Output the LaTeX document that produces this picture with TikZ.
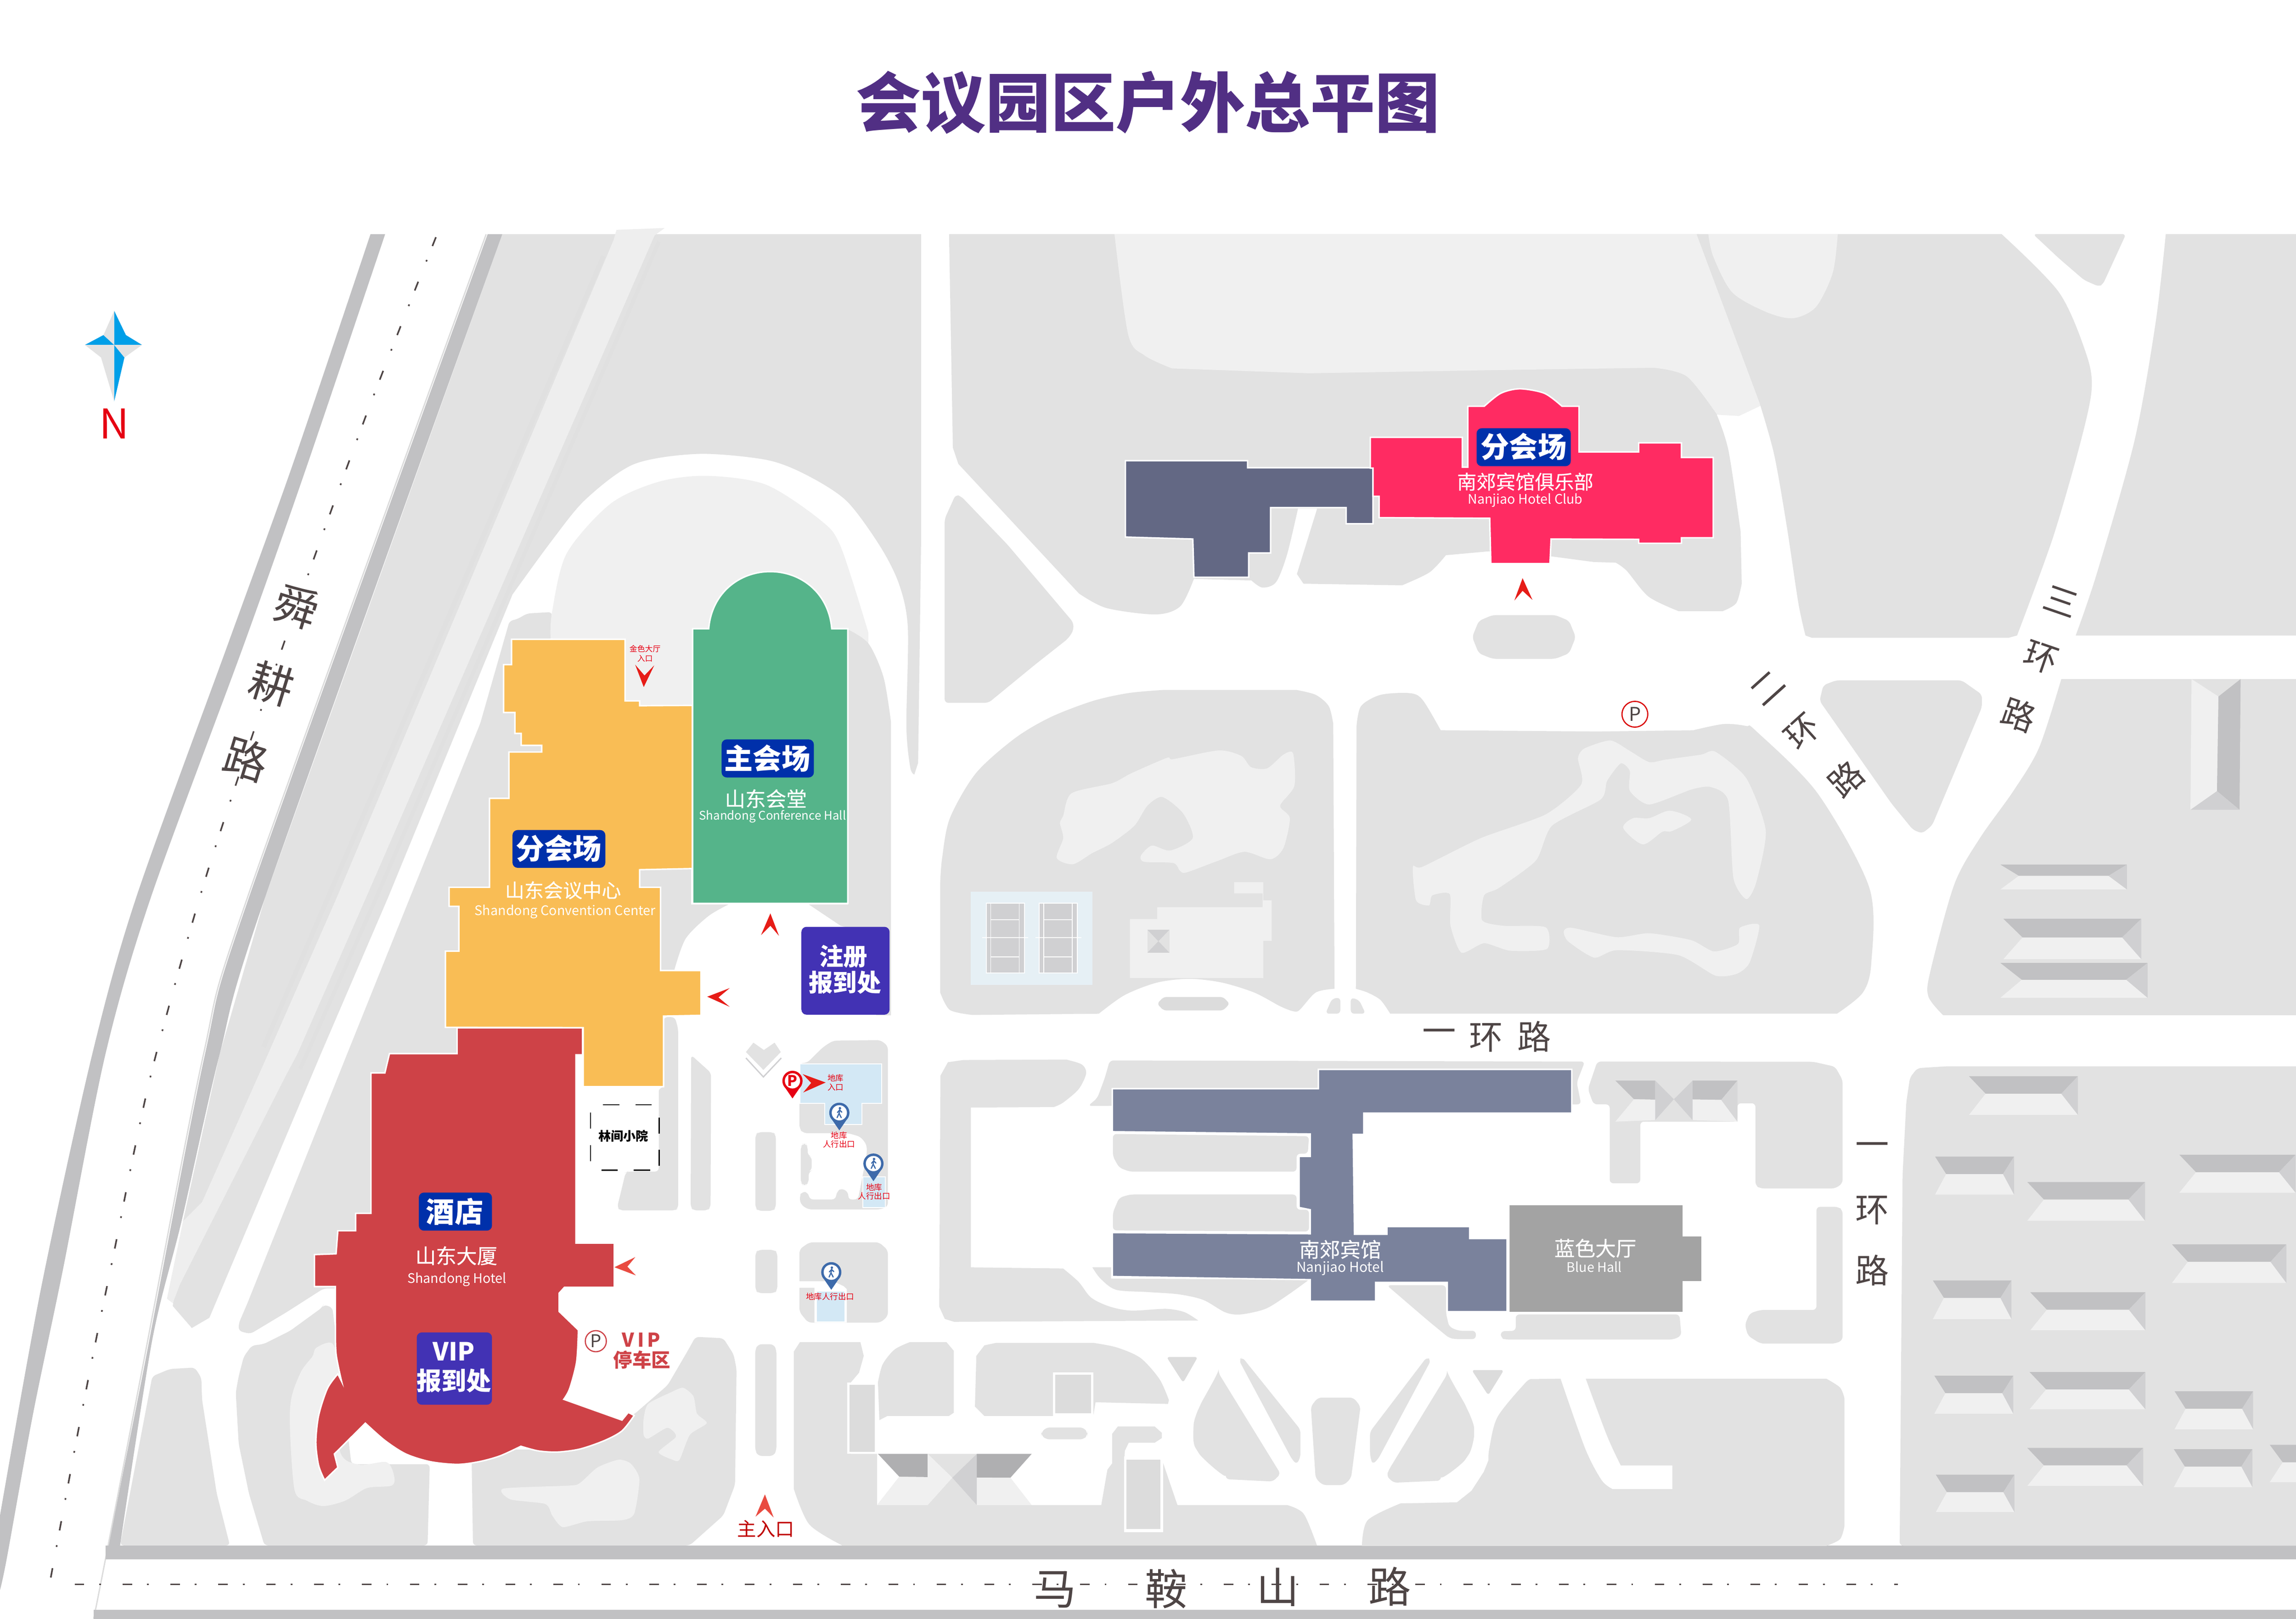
\documentclass[tikz,border=0pt]{standalone}
\usepackage{fontspec}
\setmainfont{Noto Sans CJK SC}
\newfontfamily\medf[FakeBold=0.35]{Noto Sans CJK SC}
\newcommand\tfs[1]{\fontsize{#1}{#1}\selectfont}
\definecolor{blk}{HTML}{E2E2E2}
\definecolor{lite}{HTML}{F0F0F0}
\definecolor{strip}{HTML}{C1C1C3}
\definecolor{inbox}{HTML}{DCDCDC}
\definecolor{roofm}{HTML}{D0D0D2}
\definecolor{roofd}{HTML}{AFAFB1}
\definecolor{roadtxt}{HTML}{4E4545}
\definecolor{tagblue}{HTML}{0030AA}
\definecolor{tagpurple}{HTML}{4232B4}
\definecolor{redtxt}{HTML}{E60012}
\definecolor{arrowred}{HTML}{E61C17}
\definecolor{arrowsoft}{HTML}{E94B41}
\definecolor{hotelred}{HTML}{CE4247}
\definecolor{yellowb}{HTML}{F9BD55}
\definecolor{greenb}{HTML}{55B48A}
\definecolor{pinkb}{HTML}{FF2B62}
\definecolor{slateb}{HTML}{636884}
\definecolor{greyblue}{HTML}{7A829C}
\definecolor{bluehall}{HTML}{A3A3A3}
\definecolor{skyb}{HTML}{D3E8F5}
\definecolor{pinblue}{HTML}{3D6AAA}
\definecolor{compass}{HTML}{009FE8}
\definecolor{titlec}{HTML}{512F84}
\definecolor{courtbg}{HTML}{E6F0F5}
\tikzset{
 z1/.style={shift={(0,133.33)},x=.3333pt,y=-.3061pt},
 z2/.style={shift={(266.67,373.33)},x=.2551pt,y=-.2551pt},
 z3/.style={shift={(373.33,693.33)},x=.1701pt,y=-.1361pt},
 z4/.style={shift={(186.67,693.33)},x=.2381pt,y=-.2629pt},
 z5/.style={shift={(533.33,880)},x=.3231pt,y=-.1439pt},
 z6/.style={shift={(613.33,133.33)},x=.3741pt,y=-.2211pt},
 z7/.style={shift={(613.33,453.33)},x=.4422pt,y=-.1701pt},
 z8/.style={shift={(613.33,693.33)},x=.4252pt,y=-.1531pt},
 z9/.style={shift={(1173.33,400)},x=.2520pt,y=-.4252pt},
 z10/.style={shift={(0,720)},x=.1871pt,y=-.2459pt},
 z11/.style={shift={(1120,133.33)},x=.2861pt,y=-.2211pt},
 z12/.style={shift={(1013.33,880)},x=.1871pt,y=-.1439pt},
 block/.style={fill=blk,rounded corners=2.5pt},
 sharpblock/.style={fill=blk},
 road/.style={text=roadtxt,inner sep=0pt},
 tag/.style={fill=tagblue,rounded corners=3.5pt},
 purplebox/.style={fill=tagpurple,rounded corners=3.5pt},
 whitelab/.style={text=white,inner sep=0pt},
 redlab/.style={text=redtxt,inner sep=0pt},
 build/.style={draw=white,line width=1pt,line join=miter},
 navred/.style={fill=arrowred},
 navsoft/.style={fill=arrowsoft},
 ddash/.style={draw=black,line width=.75pt},
 centerline/.style={draw=roadtxt,line width=1.1pt,dash pattern=on 6.5pt off 10.2pt on 1.2pt off 14.8pt},
}
% roof: x1 y1 x2 y2 dx dy, in the coordinates of the current scope
\newcommand\roofbox[6]{%
 \fill[lite] (#1+#5,#2+#6)--(#3-#5,#2+#6)--(#3,#4)--(#1,#4)--cycle;
 \fill[strip] (#1,#2)--(#3,#2)--(#3-#5,#2+#6)--(#1+#5,#2+#6)--cycle;
 \fill[roofm] (#3,#2)--(#3,#4)--(#3-#5,#2+#6)--cycle;}
\newcommand\pinmark[3]{%
 \begin{scope}[shift={(#1,#2)}]
 \fill[#3] (0,0) circle (6.9);
 \fill[#3] (-6.3,2.8)--(0,12)--(6.3,2.8)--cycle;
 \fill[white] (0,0) circle (5.2);
 \end{scope}}
\newcommand\walker[2]{%
 \begin{scope}[shift={(#1,#2)},pinblue,line width=.8pt,line cap=round]
 \fill (.4,-3.1) circle (.85);
 \draw (.3,-2)--(-.2,.4)--(-1.5,3.3);
 \draw (-.2,.4)--(1.3,3.3);
 \draw (-1.3,-.2)--(.2,-1.9)--(1.7,-.4);
 \end{scope}}
\begin{document}
\begin{tikzpicture}[x=1pt,y=-1pt]
\useasboundingbox (0,0) rectangle (1568,1105.6);
\fill[white] (0,0) rectangle (1568,1105.6);
\clip (0,0) rectangle (1568,1105.6);

% ---- west gray areas
\fill[blk] (343,160)--(629,160)--(629,373)--(627,521)--(624.4,529)-- plot[smooth] coordinates {(624.4,529) (621.6,524) (619,496) (620,429) (614,399) (601,373) (578,342) (550,324) (523,314) (477,310) (433,317) (400,341) (377,369) (350,406)} --(265,613)--(219,720)--(143,900)--(131,907)--(118,892)--(125,834)--(150,720)--(181,613)--cycle;
\fill[block] (237,720)--(280,613)--(328,494)--(348,424)--(353,423)--(360,419)--(377,418)--(376,436)--(376,700)--(230,880)--(221,880)--(196,896)--(171,911)--(163,909)--(163,904)--(169,890)--cycle;
\fill[block] (104,940)--(116,935)--(133,934)--(137.5,941)--(138,956)--(148,1020)--(157,1055.5)--(82,1055.5)--cycle;
\fill[block] (163,940)--(166.5,926.5)--(172,919)--(180,918)--(198,909)--(220,893)--(221,891)--(227,893)--(240,1000)--(293.5,1000)--(292,1055.5)--(180.6,1055.5)--(170,1020)--(163,986)--(161,951)--cycle;
\fill[block] (322,990)--(323,1055.5)--(471,1055.5)--(494,1035)--(502,1014)--(503,935)--(501,925)--(494,914)--(475,913)--(470,922)--(456,946)--(433,966)--(380,990)--cycle;
% light strip along the west
\fill[lite!85!blk] (421,157)--(454,155.7)--(447,160.8)--(250,613)--(203,720)--(195,735)--(123,877)--(118,890)--(114,887)--(125,834)--(138,821)--(183,720)--(230,613)--(419,164)--cycle;
\draw[blk!70!inbox,line width=3pt] (412,175)--(224,613)--(180,715);
\draw[blk!70!inbox,line width=2.5pt] (450,165)--(257,613)--(205,730);
% road strips
\fill[strip] plot[smooth] coordinates {(253,160) (200,317) (156,439) (93,613) (63,720) (28,880) (0,1035)} -- (0,1086) -- plot[smooth] coordinates {(0,1086) (4.7,1064) (22.5,966) (43,867) (72,720) (103,613) (167,439) (210,317) (263,160)} -- cycle;
\fill[strip] plot[smooth] coordinates {(333,160) (170,613) (140,720) (97,941) (72,1065)} -- (82,1055.5) -- plot[smooth] coordinates {(82,1055.5) (104,915) (124,834) (150,720) (181,613) (343,160)} -- cycle;
\draw[inbox,line width=.9pt] plot[smooth] coordinates {(332,160) (169,613) (139,720) (96,941) (72,1065) (64,1105.6)};
\fill[strip] (72,1055.5) rectangle (1568,1065);
\fill[strip] (64,1099.5) rectangle (1568,1105.6);
\draw[centerline] (51,1082)--(1296,1082);
\draw[centerline] plot[smooth] coordinates {(297.7,162) (249,286.4) (193.3,441) (141.7,595.5) (106.6,720) (91.7,786) (78.6,851.6) (65.5,915.5) (53,979.5) (34.2,1080)};

% lawn round the hall
\fill[lite] plot[smooth] coordinates {(376,436) (377,418) (387,378) (417,344) (450,329) (483,325) (523,331) (560,355) (574,373) (593,432)} -- (593,440)--(579,430)--(579,500)--(420,500)--(420,440)--cycle;
% gray beside hall, west of plaza
\begin{scope}[z2]
\fill[blk] plot[smooth] coordinates {(1225,222) (1280,260) (1320,350) (1340,470)} --(1340,1255)--(1300,1255)--(1300,1040)--(1205,1015)--(1120,958)--(1225,958)--cycle;
\fill[sharpblock] (667,865)--(805,862)--(805,958)--(905,958)-- plot[smooth] coordinates {(905,958) (850,990) (790,1050) (760,1133)} --(723,1133)--(723,912)--(667,912)--cycle;
\end{scope}

% lawn patches, south-west
\begin{scope}[z10]
\fill[lite] plot[smooth cycle,tension=.5] coordinates {(1155,815) (1215,805) (1240,900) (1240,1100) (1310,1140) (1410,1133) (1438,1170) (1430,1198) (1340,1205) (1260,1240) (1180,1255) (1120,1240) (1075,1210) (1058,1030) (1065,950) (1100,880) (1140,840)};
\end{scope}
\begin{scope}[z4]
\fill[lite] plot[smooth cycle,tension=.4] coordinates {(660,1230) (850,1222) (880,1215) (930,1175) (990,1155) (1025,1165) (1050,1205) (1035,1295) (1000,1312) (900,1315) (830,1330) (800,1300) (780,1270) (680,1258)};
\fill[lite] plot[smooth cycle,tension=.4] coordinates {(1062,1050) (1075,1010) (1140,980) (1175,968) (1205,990) (1215,1035) (1243,1060) (1195,1090) (1165,1155) (1145,1155) (1105,1135) (1155,1095) (1130,1072) (1075,1100) (1062,1090)};
\fill[block] (1382,870)--(1390,855)--(1435,855)--(1443,870)--(1443,1130)--(1435,1145)--(1390,1145)--(1382,1130)--cycle;
\end{scope}

% ---- centre column
\begin{scope}[z3]
\fill[block] (515,10)--(528,70)--(528,970)--(515,980)--(295,980)--(283,965)--(317,790)--(325,785)--(450,785)--(450,365)--(472,365)--(470,10)--cycle;
\fill[block] (580,200)--(660,290)--(658,965)--(645,980)--(590,980)--(578,965)--cycle;
\fill[block] (838,600)--(850,587)--(908,587)--(920,600)--(920,968)--(908,982)--(850,982)--(838,968)--cycle;
\fill[block] (838,1192)--(850,1178)--(914,1178)--(926,1192)--(926,1380)--(914,1395)--(850,1395)--(838,1380)--cycle;
\fill[block] (1045,240)--(1110,160)--(1150,128)--(1340,125)--(1370,155)--(1370,960)--(1340,975)--(1050,975)--(1020,950)--(1015,910)--(1025,885)--(1050,890)--(1055,925)--(1160,925)--(1165,885)--(1185,868)--(1212,890)--(1210,925)--(1250,925)--(1285,700)--(1285,650)--(1260,610)--(1210,592)--(1030,592)--(1015,570)--(1015,240)--cycle;
\fill[block] (1020,660)--(1030,645)--(1040,645)--(1048,660)--(1048,705)--(1064,710)--(1064,780)--(1052,785)--(1052,840)--(1040,853)--(1030,853)--(1020,840)--cycle;
\fill[block] (1015,1175)--(1055,1140)--(1335,1140)--(1370,1180)--(1370,1510)--(1340,1543)--(1050,1543)--(1015,1490)--cycle;
\fill[white] (1015,1335)--(1150,1335)--(1192,1360)--(1205,1375)--(1205,1543)--(1075,1543)--(1075,1368)--(1015,1368)--cycle;
\fill[skyb] (1085,1388) rectangle (1195,1538);
% chevron
\fill[blk] (800,185)--(830,138)--(872,175)--(915,138)--(940,185)--(870,275)--cycle;
\draw[roofm,line width=.9pt] (800,215)--(870,310)--(942,215);
% sky-blue underground areas
\fill[skyb,draw=white,line width=.7pt] (1017,245)--(1345,245)--(1345,442)--(1265,442)--(1265,548)--(1117,548)--(1117,442)--(1017,442)--cycle;
\fill[skyb,draw=white,line width=.7pt] (1270,812) rectangle (1360,965);
\end{scope}

% ---- south centre blocks
\begin{scope}[z5]
\fill[blk] (40,255)--(168,255)--(175,320)--(165,400)--(148,445)--(148,785)--(203,785)--(203,1028)--(677,1028)--(690,860)--(700,830)--(700,690)--(712,655)--(790,655)--(805,685)--(805,710)--(790,732)--(735,732)--(727,770)--(725,830)--(808,830)--(838,1028)--(1070,1028)-- plot[smooth] coordinates {(1070,1028) (1105,1070) (1133,1220)} -- plot[smooth] coordinates {(130,1220) (60,1120) (27,950)} --(27,300)--cycle;
\fill[blk] plot[smooth] coordinates {(205,445) (215,360) (240,290) (272,255)} --(350,255)--(365,295)--(365,590)--(355,605)--(225,605)--(208,625)--cycle;
\fill[blk] (413,320)--(430,270)--(455,258)--(660,258)-- plot[smooth] coordinates {(660,258) (710,280) (760,330) (800,430) (820,530)} --(818,548)--(665,540)--(660,605)--(430,605)--(410,560)--cycle;
\fill[white] (140,447) rectangle (203,785);
\fill[inbox] (145,458) rectangle (198,775);
\fill[white] (575,398) rectangle (660,605);
\fill[inbox] (580,410) rectangle (655,592);
\fill[block] (550,685)--(560,660)--(640,660)--(648,685)--(648,695)--(640,716)--(560,716)--(550,695)--cycle;
\fill[white] (725,797) rectangle (808,1157);
\fill[inbox] (730,812) rectangle (802,1142);
\fill[inbox,rounded corners=2pt] (815,325)--(881,325)--(850,447)--cycle;
\fill[inbox,rounded corners=2pt] (1460,387)--(1528,387)--(1495,507)--cycle;
\fill[block] plot[smooth] coordinates {(925,402) (885,560) (872,660) (880,770) (940,905)} --(1040,916)--(1056,880)--cycle;
\fill[block] (975,326)--(968,340)--(1080,810)--(1090,835)--(1098,800)--(1098,670)--cycle;
\fill[block] (1135,518)--(1210,518)--(1225,560)--(1205,900)--(1190,933)--(1145,933)--(1130,900)--(1120,560)--cycle;
\fill[block] (1365,326)--(1374,340)--(1262,810)--(1250,835)--(1245,790)--(1245,680)--cycle;
\fill[block] plot[smooth] coordinates {(1408,408) (1450,570) (1465,680) (1450,800) (1395,912)} --(1295,922)--(1280,890)--(1285,860)--cycle;
% X roof
\fill[lite] (250,893)--(310,895)--(310,1028)--(203,1028)--cycle;
\fill[lite] (414,897)--(485,898)--(530,1028)--(414,1028)--cycle;
\fill[roofd] (205,785)--(310,785)--(310,895)--(250,893)--cycle;
\fill[roofd] (414,785)--(530,785)--(485,898)--(414,897)--cycle;
\fill[blk] (310,785)--(414,785)--(362,898)--cycle;
\fill[blk] (310,1028)--(414,1028)--(362,898)--cycle;
\fill[lite] (310,785)--(362,898)--(310,1028)--cycle;
\fill[roofm] (414,785)--(362,898)--(414,1028)--cycle;
\end{scope}
\begin{scope}[z12]
\fill[blk] (0,870)--(17,815)-- plot[smooth] coordinates {(17,815) (20,760) (50,610) (150,450) (175,430)} --(280,428)-- plot[smooth] coordinates {(280,428) (370,760) (430,910) (470,952)} --(688,952)--(688,840)--(500,840)-- plot[smooth] coordinates {(500,840) (450,700) (372,428)} --(1250,428)-- plot[smooth] coordinates {(1250,428) (1300,470) (1316,520)} --(1316,1130)-- plot[smooth] coordinates {(1316,1130) (1300,1190) (1250,1222)} --(-445,1222)-- plot[smooth] coordinates {(-445,1222) (-424,1100) (-304,1020)} --(-98,1015)--(-45,960)--cycle;
\end{scope}

% ---- north blocks
\begin{scope}[z6]
\fill[blk] (93,120)--(1462,120)-- plot[smooth] coordinates {(1495,680) (1516,790) (1538,1039)} --(1540,1200)-- plot[smooth] coordinates {(1540,1200) (1530,1260) (1505,1285)} --(1425,1285)-- plot[smooth] coordinates {(1425,1285) (1370,1240) (1330,1160) (1310,1135)} --(1270,1133)--(1190,1115)--(1078,1100)--(1000,1112)-- plot[smooth] coordinates {(1000,1112) (970,1165) (920,1205)} --(740,1200)--(728,1170)-- plot[smooth] coordinates {(728,1170) (750,1050) (765,968)} --(730,968)-- plot[smooth] coordinates {(730,968) (710,1110) (690,1195) (665,1212) (645,1190)} --(540,1185)-- plot[smooth] coordinates {(540,1185) (515,1270) (470,1295) (380,1275) (330,1230)} --(110,830)--(100,780)--cycle;
\fill[lite] (395,120)-- plot[smooth] coordinates {(395,120) (420,430) (450,495) (500,535)} --(750,550)--(1100,540)-- plot[smooth] coordinates {(1380,533) (1440,560) (1495,678)} --(1535,682)--(1575,650)--(1460,120)--cycle;
\fill[block] (105,925)--(115,930)--(200,1080)--(320,1320)--(320,1345)--(310,1370)--(250,1450)--(165,1568)--(85,1568)--(85,1000)--cycle;
\fill[block] (1048,1365)--(1060,1315)--(1085,1297)--(1200,1297)--(1225,1315)--(1237,1365)--(1225,1415)--(1200,1432)--(1085,1432)--(1060,1415)--cycle;
\end{scope}
\begin{scope}[z11]
\fill[blk] (135,120)--(863,120)-- plot[smooth] coordinates {(863,120) (1000,300) (1065,490) (1078,600) (1050,770) (985,1060) (900,1360)} --(880,1367)--(410,1367)-- plot[smooth] coordinates {(395,1360) (378,1260) (350,1020) (320,800) (285,640)} --cycle;
\fill[lite] plot[smooth] coordinates {(163,120) (175,190) (220,300) (300,360) (365,380) (420,345) (460,240) (472,120)} -- cycle;
\fill[block] (938,120)--(1160,120)--(1105,275)--(1095,282)--(1060,262)--(1000,195)--cycle;
\fill[blk] (1255,120)--(1568,120)--(1568,1360)--(1040,1360)-- plot[smooth] coordinates {(1040,1360) (1090,1170) (1180,760) (1230,400) (1255,120)} --cycle;
\end{scope}

% ---- C1 and C2 blocks
\begin{scope}[z7]
\fill[blk] plot[smooth] coordinates {(65,880) (68,780) (80,620) (120,440) (180,300) (235,215) (300,150) (355,118) (410,105)} -- plot[smooth] coordinates {(615,105) (645,125) (665,170) (672,240)} --(674,1305)-- plot[smooth] coordinates {(674,1305) (645,1320) (620,1390) (610,1395) (590,1375) (550,1320) (500,1280) (450,1265) (400,1280) (350,1330) (310,1405)} --(115,1410)-- plot[smooth] coordinates {(115,1410) (80,1390) (65,1320)} --cycle;
\fill[inbox,rounded corners=2pt] (400,1365)--(410,1338)--(502,1338)--(512,1365)--(502,1392)--(410,1392)--cycle;
\fill[block] (660,1405)--(670,1345)--(683,1340)--(683,1405)--cycle;
\fill[block] (699,1405)--(699,1340)--(712,1350)--(722,1405)--cycle;
\fill[blk] plot[smooth] coordinates {(708,250) (715,170) (745,125) (790,118) (810,145) (838,267)} --(1080,272)--(1228,267)-- plot[smooth] coordinates {(1228,267) (1275,242) (1310,250) (1325,270) (1420,520) (1500,900) (1503,1200) (1490,1320) (1450,1405)} --(760,1405)-- plot[smooth] coordinates {(760,1405) (745,1350) (725,1320) (707,1305)} --cycle;
\fill[lite] plot[smooth cycle,tension=.45] coordinates {(268,520) (330,480) (360,440) (415,378) (425,383) (495,348) (530,370) (545,415) (570,420) (595,365) (610,360) (612,490) (590,570) (605,620) (595,740) (575,785) (535,755) (495,790) (445,838) (435,830) (425,800) (380,795) (375,770) (392,730) (420,750) (455,700) (440,600) (408,535) (385,570) (365,650) (330,720) (300,760) (270,805) (245,780) (255,700) (250,640) (255,610)};
\fill[lite] plot[smooth cycle,tension=.4] coordinates {(1060,340) (1100,308) (1130,350) (1160,395) (1185,385) (1240,365) (1262,353) (1310,460) (1340,670) (1325,880) (1310,945) (1290,860) (1282,550) (1255,495) (1225,505) (1160,565) (1130,510) (1130,430) (1116,400) (1095,470) (1085,545) (1010,650) (985,790) (928,900) (905,930) (902,1030) (935,1052) (1000,1058) (1002,1145) (945,1152) (905,1122) (870,1160) (853,1050) (852,925) (825,930) (820,970) (800,950) (795,815) (810,815) (900,700) (1000,605) (1055,485) (1050,380)};
\fill[lite] plot[smooth cycle,tension=.5] coordinates {(1120,660) (1135,620) (1160,620) (1192,590) (1225,625) (1195,672) (1180,675) (1150,725)};
\fill[lite] plot[smooth cycle,tension=.4] coordinates {(1028,1075) (1040,1060) (1110,1098) (1160,1082) (1225,1110) (1260,1155) (1297,1125) (1300,1060) (1330,1050) (1315,1200) (1295,1245) (1262,1252) (1205,1170) (1110,1150) (1075,1180) (1035,1115)};
% tennis courts
\fill[courtbg] (112,915) rectangle (300,1290);
\foreach \xx in {136,218}{
 \fill[roofm] (\xx,962) rectangle (\xx+59,1242);
 \draw[white,line width=.6pt] (\xx,962) rectangle (\xx+59,1242);
 \draw[white,line width=.5pt] (\xx+7,962)--(\xx+7,1242) (\xx+51,962)--(\xx+51,1242);
 \draw[white,line width=.6pt] (\xx+7,1027)--(\xx+51,1027) (\xx+7,1177)--(\xx+51,1177) (\xx-6,1100)--(\xx+65,1100);
}
\fill[lite] (358,1025)--(400,1025)--(400,977)--(563,977)--(563,922)--(519,922)--(519,877)--(564,877)--(564,950)--(577,950)--(577,1112)--(564,1112)--(564,1262)--(358,1262)--cycle;
\fill[blk] (385,1068) rectangle (419,1160);
\fill[roofm] (385,1068)--(419,1068)--(402,1114)--cycle;
\fill[roofm] (385,1160)--(419,1160)--(402,1114)--cycle;
\end{scope}

% ---- east block and triangle
\begin{scope}[z9]
\fill[block] (320,152)--(660,152)--(715,175)--(715,195)--(580,385)--(553,398)--(528,392)--(470,350)--(340,240)--(275,185)--(285,160)--cycle;
\fill[blk] (930,150)--(1600,150)--(1600,690)--(610,690)-- plot[smooth] coordinates {(610,690) (570,660) (575,620) (640,480) (710,405) (800,330) (870,260) (930,150)} --cycle;
\fill[block] (520,790)--(540,775)--(620,772)--(1600,772)--(1600,1542)--(492,1542)--(500,945)--(510,830)--cycle;
\fill[lite] (1283,150)--(1356,178)--(1352,330)--(1280,360)--cycle;
\fill[strip] (1356,178)--(1416,150)--(1413,360)--(1352,330)--cycle;
\fill[roofm] (1280,360)--(1352,330)--(1413,360)--cycle;
\roofbox{765}{448}{1108}{488}{50}{18}
\roofbox{773}{535}{1147}{600}{52}{30}
\roofbox{765}{606}{1164}{662}{58}{27}
\roofbox{680}{788}{975}{850}{45}{28}
\roofbox{588}{917}{802}{978}{30}{28}
\roofbox{838}{958}{1157}{1020}{45}{28}
\roofbox{1250}{914}{1565}{975}{45}{28}
\roofbox{1230}{1058}{1540}{1120}{43}{28}
\roofbox{582}{1116}{795}{1178}{30}{28}
\roofbox{846}{1135}{1158}{1196}{45}{28}
\roofbox{586}{1269}{800}{1330}{30}{28}
\roofbox{844}{1263}{1158}{1323}{45}{28}
\roofbox{1237}{1294}{1450}{1355}{30}{28}
\roofbox{838}{1385}{1152}{1446}{45}{28}
\roofbox{1235}{1387}{1448}{1448}{30}{28}
\roofbox{590}{1428}{803}{1488}{30}{28}
\roofbox{1495}{1380}{1700}{1440}{35}{28}
\end{scope}

% ---- Nanjiao blocks
\begin{scope}[z8]
\fill[blk] (68,270)--(80,210)--(105,200)--(270,198)-- plot[smooth] coordinates {(270,198) (295,220) (302,260) (290,330) (265,390) (250,410)} --(117,412)--(117,1125)--(265,1130)-- plot[smooth] coordinates {(265,1130) (290,1190) (310,1260) (340,1300) (375,1318) (430,1310) (460,1325) (482,1362)} --(90,1368)--(75,1355)--(66,1300)--cycle;
\fill[block] (305,405)--(320,370)--(332,280)--(340,202)--(1103,207)--(1090,300)--(1097,398)--cycle;
\fill[block] (345,530)--(660,540)--(658,618)--(640,618)--(640,698)--(372,698)--(355,680)--(345,630)--cycle;
\fill[block] (345,960)--(345,880)--(355,815)--(372,800)--(640,800)--(640,868)--(660,868)--(660,965)--cycle;
\fill[blk] (342,1125)--(342,1175)--(660,1180)-- plot[smooth] coordinates {(660,1180) (625,1250) (590,1310) (550,1335) (525,1325) (490,1270) (450,1245) (400,1235) (350,1225) (325,1175) (312,1125)} --cycle;
\fill[block] (785,1205)--(880,1205)--(880,1330)--(885,1390)--(900,1408)--(928,1408)--(928,1445)--(895,1445)--(885,1440)--(850,1360)--cycle;
\fill[block] (992,1335)--(1255,1335)--(1258,1430)--(1245,1447)--(975,1447)--(968,1440)--(968,1410)--(992,1408)--cycle;
\fill[block] (1123,207)--(1470,208)--(1505,230)--(1517,290)--(1517,750)--(1505,773)--(1385,773)--(1377,760)--(1377,393)--(1348,393)--(1348,475)--(1192,475)--(1192,750)--(1143,750)--(1143,398)--(1117,398)--(1108,330)--cycle;
\fill[block] (1385,1315)--(1475,1315)--(1475,855)--(1510,855)--(1517,870)--(1517,1450)--(1505,1465)--(1385,1465)--(1365,1430)--(1360,1380)--(1368,1330)--cycle;
% X roof
\fill[strip] (1152,292)--(1216,292)--(1216,377)--(1182,375)--cycle;
\fill[strip] (1276,292)--(1348,292)--(1322,378)--(1276,376)--cycle;
\fill[lite] (1182,375)--(1216,377)--(1216,468)--(1152,475)--cycle;
\fill[lite] (1276,376)--(1322,378)--(1348,475)--(1276,468)--cycle;
\fill[roofm] (1216,292)--(1246,375)--(1216,468)--cycle;
\fill[roofm] (1276,292)--(1246,375)--(1276,468)--cycle;
\fill[roofm!60!blk] (1322,378)--(1348,292)--(1348,475)--cycle;
% buildings
\fill[greyblue,build] (344,328)--(675,328)--(675,242)--(1082,242)--(1082,437)--(748,437)--(748,532)--(731,532)--(733,977)--(785,977)--(785,943)--(918,943)--(918,996)--(978,996)--(978,1323)--(882,1323)--(882,1192)--(767,1192)--(767,1276)--(662,1276)--(662,1180)--(344,1166)--(344,970)--(662,975)--(662,868)--(644,858)--(644,630)--(662,630)--(662,530)--(344,520)--cycle;
\fill[bluehall] (982,848)--(1260,848)--(1260,987)--(1290,987)--(1290,1186)--(1260,1186)--(1260,1323)--(982,1323)--cycle;
\end{scope}

\begin{scope}[z6]
\fill[slateb,build] (415,820)--(638,820)--(638,842)--(867,842)--(867,1015)--(818,1015)--(818,965)--(680,965)--(680,1105)--(640,1105)--(640,1180)--(540,1180)--(538,1062)--(415,1056)--cycle;
\fill[pinkb,build] (862,748)--(1030,748)--(1030,840)--(1040,840)--(1040,652)--(1070,652)-- plot[smooth] coordinates {(1070,652) (1100,612) (1135,598) (1180,612) (1212,652)} --(1243,652)--(1243,793)--(1352,793)--(1352,765)--(1430,765)--(1430,810)--(1488,810)--(1488,1058)--(1430,1058)--(1430,1075)--(1352,1075)--(1352,1063)--(1192,1062)--(1190,1138)--(1082,1138)--(1080,998)--(878,996)--(878,930)--(867,930)--(867,843)--(862,843)--cycle;
\end{scope}

% ---- conference buildings
\begin{scope}[z2]
\fill[yellowb,build] (324,248)--(628,248)--(628,413)--(667,413)--(667,426)--(808,425)--(808,862)--(667,865)--(667,912)--(723,912)--(723,1135)--(831,1135)--(831,1255)--(731,1257)--(731,1446)--(516,1446)--(516,1288)--(147,1287)--(147,1083)--(183,1083)--(183,963)--(157,963)--(157,912)--(265,912)--(265,674)--(317,674)--(317,550)--(405,550)--(405,532)--(350,532)--(350,500)--(333,500)--(333,444)--(303,444)--(303,316)--(324,316)--cycle;
\end{scope}
\fill[greenb,build] (473,429.4)--(484,429.4) .. controls (486,405) and (505,390.4) .. (526,390.4) .. controls (547,390.4) and (566,405) .. (568,429.4)--(579,429.4)--(579,617)--(473,617)--cycle;
\begin{scope}[z4]
\fill[hotelred,build] (527,33)--(887,33)--(887,103)--(868,103)--(868,592)--(978,592)--(978,707)--(835,707)--(820,722)--(820,770)--(875,818)-- plot[smooth] coordinates {(875,818) (870,900) (850,970) (833,998)} --(1000,1052)--(1018,1032)--(1035,1040)-- plot[smooth] coordinates {(1035,1040) (1000,1080) (950,1105) (880,1127) (815,1135) (760,1132) (710,1120)} -- plot[smooth] coordinates {(710,1120) (650,1145) (590,1160) (527,1167) (450,1160) (380,1140) (320,1105) (264,1060)} --(175,1140)--(185,1175)--(147,1208)-- plot[smooth] coordinates {(147,1208) (130,1170) (122,1110) (130,1040) (155,970) (185,932)} --(196,952)-- plot[smooth] coordinates {(196,952) (180,880) (178,800) (178,705)} --(118,705)--(118,622)--(180,620)--(185,560)--(236,560)--(236,515)--(280,515)--(280,150)--(320,150)--(333,100)--(527,100)--cycle;
\end{scope}

% ---- tags
\fill[tag] (492.8,505) rectangle (555.8,531);
\fill[tag] (350,566.9) rectangle (413.4,592.7);
\fill[tag] (286,814.5) rectangle (336,840.5);
\fill[tag] (1008.4,292.5) rectangle (1072.7,318.4);
\fill[purplebox] (547.3,633) rectangle (607.5,693);
\fill[purplebox] (284.6,910) rectangle (336,959.4);

\node[whitelab,font=\tfs{19.5}\bfseries] (tagmain) at (524,518) {主会场};
\node[whitelab,font=\tfs{19.5}\bfseries] (tagconv) at (381.5,579.5) {分会场};
\node[whitelab,font=\tfs{19.5}\bfseries] (taghotel) at (310.5,827.5) {酒店};
\node[whitelab,font=\tfs{19.5}\bfseries] (tagclub) at (1040.5,305) {分会场};
\node[whitelab,font=\tfs{16.5}\bfseries] (regA) at (576,653) {注册};
\node[whitelab,font=\tfs{16.5}\bfseries] (regB) at (577,671) {报到处};
\node[whitelab,font=\tfs{17}\bfseries] (vipA) at (310,923) {VIP};
\node[whitelab,font=\tfs{17}\bfseries] (vipB) at (310,943) {报到处};
\node[whitelab,font=\medf\tfs{14}] (hallcn) at (523,545.5) {山东会堂};
\node[whitelab,font=\tfs{8.1}] (hallen) at (527.6,557.7) {Shandong Conference Hall};
\node[whitelab,font=\medf\tfs{13.2}] (convcn) at (384.5,608) {山东会议中心};
\node[whitelab,font=\tfs{9}] (conven) at (386,622.8) {Shandong Convention Center};
\node[whitelab,font=\medf\tfs{14}] (hotelcn) at (311.7,857.6) {山东大厦};
\node[whitelab,font=\tfs{9}] (hotelen) at (312,874) {Shandong Hotel};
\node[whitelab,font=\medf\tfs{13.3}] (clubcn) at (1041.6,329) {南郊宾馆俱乐部};
\node[whitelab,font=\tfs{9}] (cluben) at (1041.6,341.8) {Nanjiao Hotel Club};
\node[whitelab,font=\medf\tfs{14}] (njcn) at (915.2,853.3) {南郊宾馆};
\node[whitelab,font=\tfs{9.4}] (njen) at (915.2,866.3) {Nanjiao Hotel};
\node[whitelab,font=\medf\tfs{14}] (bluecn) at (1089.5,852.5) {蓝色大厅};
\node[whitelab,font=\tfs{9}] (blueen) at (1088.7,865.2) {Blue Hall};

% ---- title, compass
\node[text=titlec,inner sep=0pt,font=\tfs{44.3}\bfseries] (title) at (784,70) {会议园区户外总平图};
\begin{scope}[z1]
\fill[compass] (234,258)--(258,312)--(291,334)--(234,334)--cycle;
\fill[compass] (234,334)--(255,362)--(234,460)--cycle;
\fill[compass] (174,334)--(212,312)--(234,334)--cycle;
\fill[blk] (234,258)--(212,312)--(234,334)--cycle;
\fill[blk] (174,334)--(234,334)--(234,460)--(207,362)--cycle;
\fill[blk] (234,334)--(291,334)--(255,362)--cycle;
\end{scope}
\node[redlab,font=\tfs{28}] (north) at (78,289.5) {N};

% ---- road names
\node[road,font=\tfs{30},rotate=-17] (sa) at (202.7,414.3) {舜};
\node[road,font=\tfs{30},rotate=-17] (sb) at (185.7,467) {耕};
\node[road,font=\tfs{30},rotate=-17] (sc) at (168,518.4) {路};
\node[road,font=\tfs{29}] (ma) at (720.7,1085.8) {马};
\node[road,font=\tfs{29}] (mb) at (796.5,1085) {鞍};
\node[road,font=\tfs{29}] (mc) at (872.5,1084) {山};
\node[road,font=\tfs{29}] (md) at (949.3,1083.6) {路};
\node[road,font=\tfs{23}] (ya) at (983,707.8) {一};
\node[road,font=\tfs{23}] (yb) at (1015,708.6) {环};
\node[road,font=\tfs{23}] (yc) at (1047.9,708) {路};
\node[road,font=\tfs{23}] (va) at (1278.6,785) {一};
\node[road,font=\tfs{23}] (vb) at (1278.6,826.5) {环};
\node[road,font=\tfs{23}] (vc) at (1278.6,867.7) {路};
\node[road,font=\tfs{23},rotate=42] (ea) at (1207.3,470) {二};
\node[road,font=\tfs{23},rotate=42] (eb) at (1231,500) {环};
\node[road,font=\tfs{23},rotate=42] (ec) at (1260.7,531.8) {路};
\node[road,font=\tfs{23},rotate=-19] (ta) at (1407.5,410.8) {三};
\node[road,font=\tfs{23},rotate=-19] (tb) at (1393.8,449) {环};
\node[road,font=\tfs{23},rotate=-19] (tc) at (1378.7,488.4) {路};

% ---- nav arrows
\begin{scope}[z2]
\fill[navred] (655,316)--(680,345)--(706,318)--(678,376)--cycle;
\fill[navred] (1017,982)--(1040,1042)--(1017,1015)--(992,1040)--cycle;
\fill[navred] (848,1205)--(908,1182)--(878,1207)--(908,1232)--cycle;
\end{scope}
\begin{scope}[z3]
\fill[navred] (1028,296)--(1120,338)--(1030,388)--(1062,340)--cycle;
\fill[navsoft] (272,1265)--(356,1214)--(324,1262)--(358,1306)--cycle;
\draw[ddash] (226,450)--(292,450) (357,450)--(422,450) (176,488)--(176,570) (176,652)--(176,733) (452,514)--(452,595) (452,676)--(452,757) (220,778)--(285,778) (350,778)--(415,778);
\end{scope}
\begin{scope}[z4]
\fill[navsoft] (1410,1245)--(1435,1305)--(1410,1282)--(1383,1303)--cycle;
\end{scope}
\begin{scope}[z6]
\fill[navred] (1140,1183)--(1158,1250)--(1140,1222)--(1125,1252)--cycle;
\end{scope}

% ---- small labels
\node[redlab,font=\tfs{5.3}] (gold1) at (440.5,443.2) {金色大厅};
\node[redlab,font=\tfs{5.3}] (gold2) at (440.5,449.9) {入口};
\node[inner sep=0pt,text=black,font=\tfs{8.5}\bfseries] (lin) at (425.7,775.8) {林间小院};
\node[redlab,font=\tfs{5.5}] (ga) at (570.6,736.4) {地库};
\node[redlab,font=\tfs{5.5}] (gb) at (570.6,742.6) {入口};
\node[redlab,font=\tfs{5.5}] (pa) at (573,775.5) {地库};
\node[redlab,font=\tfs{5.5}] (pb) at (573,781.5) {人行出口};
\node[redlab,font=\tfs{5.5}] (pc) at (597,810.8) {地库};
\node[redlab,font=\tfs{5.5}] (pd) at (597,816.8) {人行出口};
\node[redlab,font=\tfs{5.5}] (pe) at (566.9,885.6) {地库人行出口};
\node[inner sep=0pt,text=red!75!black,font=\tfs{13}] (mainin) at (523,1044.3) {主入口};
\node[inner sep=0pt,text=hotelred,font=\tfs{13}\bfseries] (vipp) at (438,915) {V\,I\,P};
\node[inner sep=0pt,text=hotelred,font=\tfs{13}\bfseries] (vippark) at (438.4,928.6) {停车区};

% ---- pins and P marks
\pinmark{541.2}{738.2}{redtxt}
\node[inner sep=0pt,text=redtxt,font=\tfs{10}\bfseries] (pinp) at (541.2,738) {P};
\pinmark{573.2}{760}{pinblue}\walker{573.2}{760}
\pinmark{596.5}{794.7}{pinblue}\walker{596.5}{794.7}
\pinmark{567.7}{868.9}{pinblue}\walker{567.7}{868.9}
\draw[hotelred,line width=.8pt,fill=white] (406.9,916) circle (7.2);
\node[inner sep=0pt,text=roadtxt,font=\tfs{12}] (p1) at (407,916) {P};
\draw[red!85!black,line width=.8pt,fill=white] (1116.5,487.8) circle (8.8);
\node[inner sep=0pt,text=roadtxt,font=\tfs{13}] (p2) at (1116.5,487.8) {P};
\end{tikzpicture}
\end{document}
